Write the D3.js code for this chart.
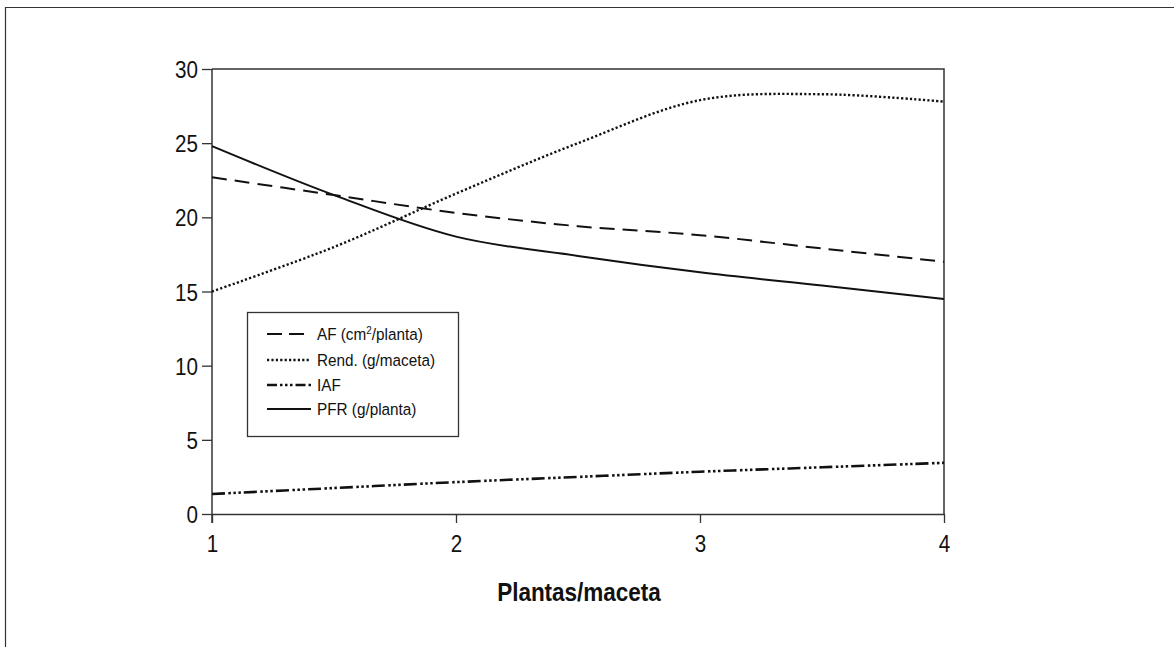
<!DOCTYPE html>
<html>
<head>
<meta charset="utf-8">
<script src="https://cdn.jsdelivr.net/npm/d3@7/dist/d3.min.js"></script>
<style>
  html, body { margin: 0; padding: 0; background: #fff; }
  svg text { font-family: "Liberation Sans", Arial, sans-serif; fill: #111; }
</style>
</head>
<body>
<svg id="chart" width="1174" height="647"></svg>
<script>
// ---- data ----
const xValues = [1, 1.5, 2, 2.5, 3, 3.5, 4];
const afValues   = [22.7, 21.5, 20.3, 19.4, 18.8, 17.9, 17.0];   // AF (cm2/planta)
const rendValues = [15.0, 18.0, 21.6, 25.0, 27.9, 28.3, 27.8];   // Rend. (g/maceta)
const iafValues  = [1.35, 1.75, 2.15, 2.5, 2.85, 3.15, 3.45];    // IAF
const pfrValues  = [24.8, 21.5, 18.7, 17.4, 16.3, 15.4, 14.5];   // PFR (g/planta)
const xTicks = [1, 2, 3, 4];
const yTicks = [0, 5, 10, 15, 20, 25, 30];
const seriesNames = ["AF (cm²/planta)", "Rend. (g/maceta)", "IAF", "PFR (g/planta)"];
const xTitle = "Plantas/maceta";

// ---- layout ----
const svg = d3.select("#chart");
const L = 212, R = 944, T = 69, B = 514;
const x = d3.scaleLinear().domain([1, 4]).range([L, R]);
const y = d3.scaleLinear().domain([0, 30]).range([B, T]);
const SX = 0.86; // horizontal condensing of the labels

// outer frame (continues beyond the picture)
svg.append("path")
  .attr("d", `M5.5,700 L5.5,7.5 L1200,7.5`)
  .attr("fill", "none").attr("stroke", "#333").attr("stroke-width", 1.2);

// plot box top/right
svg.append("path")
  .attr("d", `M${L},${T} L${R},${T} L${R},${B}`)
  .attr("fill", "none").attr("stroke", "#333").attr("stroke-width", 1.5);

// y axis
const yAxis = d3.axisLeft(y).tickValues(yTicks).tickFormat(d3.format("d")).tickSize(10).tickPadding(5).tickSizeOuter(0);
const gy = svg.append("g").attr("transform", `translate(${L},0)`).call(yAxis);
gy.select(".domain").attr("stroke", "#333").attr("stroke-width", 1.5)
  .attr("d", `M0,${T}V${B + 9}`);
gy.selectAll(".tick line").attr("stroke", "#333").attr("stroke-width", 1.3);
gy.selectAll(".tick text").attr("font-size", 24).attr("fill", "#111")
  .attr("x", -14 / SX).attr("dy", "0.36em")
  .attr("transform", `scale(${SX},1)`);

// x axis
const xAxis = d3.axisBottom(x).tickValues(xTicks).tickFormat(d3.format("d")).tickSize(9).tickPadding(12).tickSizeOuter(0);
const gx = svg.append("g").attr("transform", `translate(0,${B})`).call(xAxis);
gx.select(".domain").attr("stroke", "#333").attr("stroke-width", 1.5);
gx.selectAll(".tick line").attr("stroke", "#333").attr("stroke-width", 1.3);
gx.selectAll(".tick text").attr("font-size", 24).attr("fill", "#111")
  .attr("transform", `scale(${SX},1)`);

// x title
svg.append("text")
  .attr("transform", `translate(579,601) scale(0.9,1)`)
  .attr("text-anchor", "middle")
  .attr("font-size", 25).attr("font-weight", "bold")
  .text(xTitle);

// ---- lines ----
const styles = [
  { dash: "15,8", width: 2 },
  { dash: "2.2,2.2", width: 2.4 },
  { dash: "13,3.5,2.5,2.5,2.5,2.5,2.5,3", width: 2.6 },
  { dash: null, width: 2 }
];
const allValues = [afValues, rendValues, iafValues, pfrValues];
const line = d3.line()
  .x((d, i) => x(xValues[i]))
  .y(d => y(d))
  .curve(d3.curveCatmullRom.alpha(0.5));

allValues.forEach((vals, k) => {
  const p = svg.append("path")
    .attr("d", line(vals))
    .attr("fill", "none")
    .attr("stroke", "#111")
    .attr("stroke-width", styles[k].width);
  if (styles[k].dash) p.attr("stroke-dasharray", styles[k].dash);
});

// ---- legend ----
const lg = svg.append("g");
lg.append("rect")
  .attr("x", 247.5).attr("y", 312.5).attr("width", 211).attr("height", 124)
  .attr("fill", "#fff").attr("stroke", "#333").attr("stroke-width", 1.3);
const rowY = [334, 360, 385, 409];
seriesNames.forEach((name, k) => {
  const l = lg.append("line")
    .attr("x1", 267).attr("x2", 311)
    .attr("y1", rowY[k]).attr("y2", rowY[k])
    .attr("stroke", "#111").attr("stroke-width", styles[k].width);
  if (k === 0) l.attr("stroke-dasharray", "15,7");
  if (k === 1) l.attr("stroke-dasharray", "2.2,2.2");
  if (k === 2) l.attr("stroke-dasharray", "10,3,2.5,2.5,2.5,2.5,2.5,3");
  const t = lg.append("text")
    .attr("transform", `translate(317,${rowY[k] + 6}) scale(0.9,1)`)
    .attr("font-size", 17);
  if (k === 0) {
    t.append("tspan").text("AF (cm");
    t.append("tspan").attr("dy", -6).attr("font-size", 11).text("2");
    t.append("tspan").attr("dy", 6).text("/planta)");
  } else {
    t.text(name);
  }
});
</script>
</body>
</html>
